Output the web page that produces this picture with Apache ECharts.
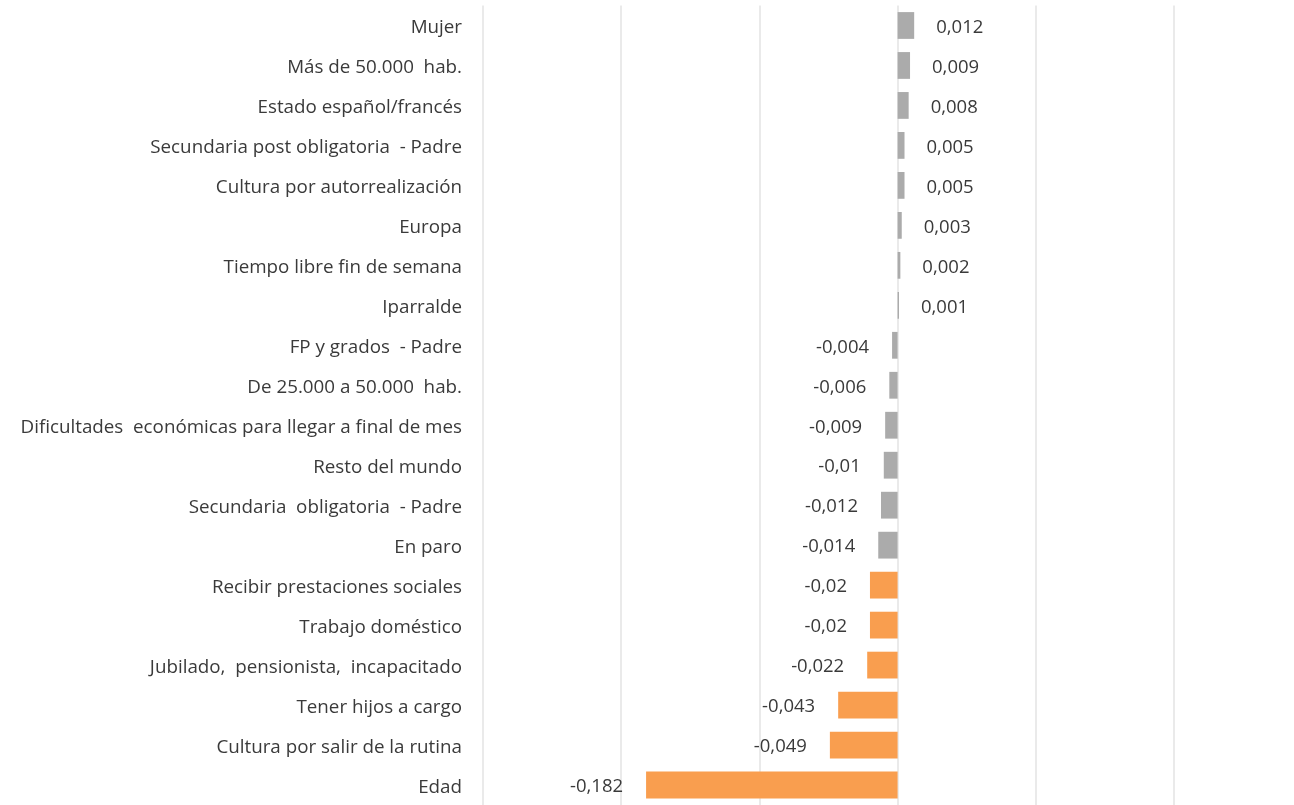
<!DOCTYPE html>
<html>
<head>
<meta charset="utf-8">
<script src="https://cdn.jsdelivr.net/npm/echarts@6/dist/echarts.min.js"></script>
<style>
html, body { margin: 0; padding: 0; background: #fff; }
#chart { width: 1294px; height: 805px; }
</style>
</head>
<body>
<div id="chart"></div>
<script>
// categorias, de arriba abajo
const categorias = [
  'Mujer',
  'Más de 50.000  hab.',
  'Estado español/francés',
  'Secundaria post obligatoria  - Padre',
  'Cultura por autorrealización',
  'Europa',
  'Tiempo libre fin de semana',
  'Iparralde',
  'FP y grados  - Padre',
  'De 25.000 a 50.000  hab.',
  'Dificultades  económicas para llegar a final de mes',
  'Resto del mundo',
  'Secundaria  obligatoria  - Padre',
  'En paro',
  'Recibir prestaciones sociales',
  'Trabajo doméstico',
  'Jubilado,  pensionista,  incapacitado',
  'Tener hijos a cargo',
  'Cultura por salir de la rutina',
  'Edad'
]
const valores = [
  0.012, 0.009, 0.008, 0.005, 0.005, 0.003, 0.002, 0.001,
  -0.004, -0.006, -0.009, -0.01, -0.012, -0.014,
  -0.02, -0.02, -0.022, -0.043, -0.049, -0.182
]
// los destacados (naranja) son los de efecto >= 0,02 en valor absoluto
const destacados = [
  false, false, false, false, false, false, false, false,
  false, false, false, false, false, false,
  true, true, true, true, true, true
]
const ejeMin = -0.3
const ejeMax = 0.2
const ejePaso = 0.1

const GRIS = '#ABABAB'
const NARANJA = '#F99E4F'
const TEXTO = '#3A3A3A'
const FUENTE = 'Open Sans'

const fmt = v => String(v).replace('.', ',')

const chart = echarts.init(document.getElementById('chart'))
chart.setOption({
  animation: false,
  grid: {
    left: 483,
    right: 120,
    top: 5.5,
    height: 803,
    containLabel: false
  },
  xAxis: {
    type: 'value',
    min: ejeMin,
    max: ejeMax,
    interval: ejePaso,
    axisLabel: { show: false },
    axisLine: { show: false },
    axisTick: { show: false },
    splitLine: { lineStyle: { color: '#E3E3E3', width: 1.5 } }
  },
  yAxis: {
    type: 'category',
    data: categorias,
    inverse: true,
    axisLine: { show: false, onZero: false },
    axisTick: { show: false },
    axisLabel: {
      margin: 21,
      formatter: v => '{t|' + v + '}',
      rich: {
        t: {
          fontFamily: FUENTE,
          fontSize: 18.8,
          color: TEXTO,
          padding: [5, 0, 0, 0]
        }
      }
    }
  },
  series: [{
    type: 'bar',
    barCategoryGap: '33%',
    data: valores.map((v, i) => ({
      value: v,
      itemStyle: { color: destacados[i] ? NARANJA : GRIS },
      label: {
        show: true,
        position: v < 0 ? 'left' : 'right',
        distance: v < 0 ? 23 : 22,
        offset: [0, 2],
        formatter: p => fmt(p.value),
        fontFamily: FUENTE,
        fontSize: 18.5,
        color: TEXTO
      }
    }))
  }]
})
</script>
</body>
</html>
